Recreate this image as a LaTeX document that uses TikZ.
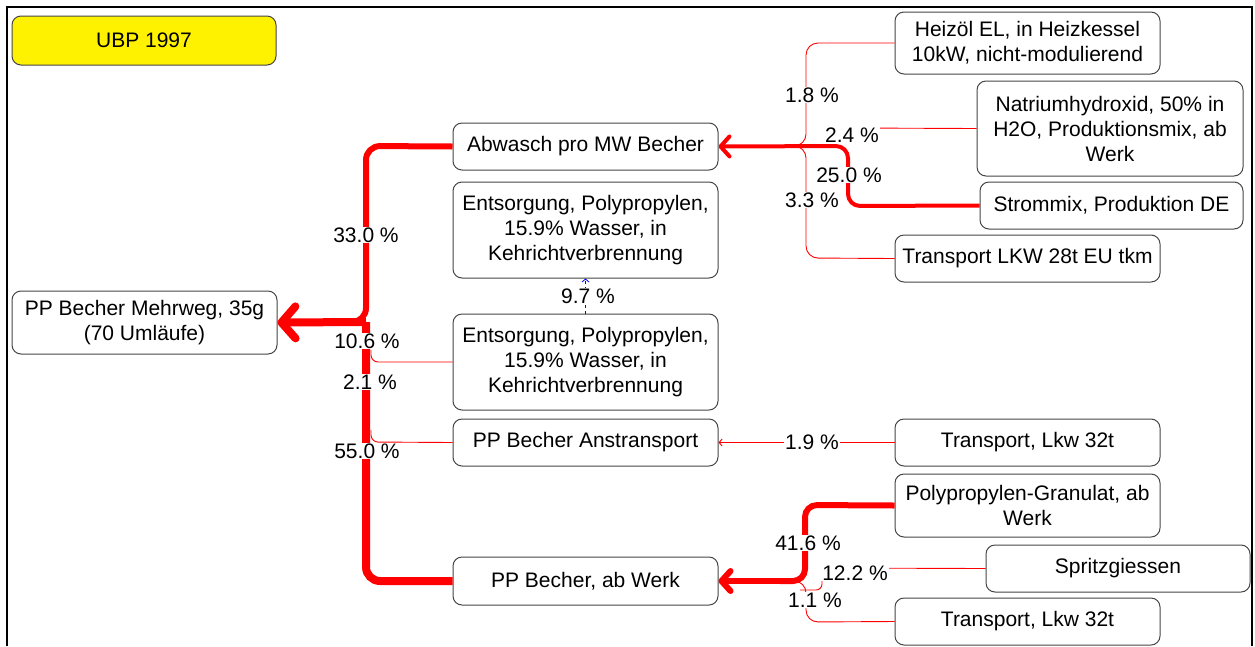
\documentclass[tikz,border=0pt]{standalone}
\usepackage{fontspec}
\setmainfont{Liberation Sans}
\usetikzlibrary{arrows.meta}
\definecolor{boxline}{RGB}{70,70,70}
\definecolor{flowred}{RGB}{255,0,0}
\tikzset{
  box/.style={draw=boxline, line width=1pt, rounded corners=9pt, fill=white, align=center, inner sep=0pt, font=\fontsize{21}{25}\selectfont},
  lbl/.style={fill=white, inner sep=1pt, font=\fontsize{21}{25}\selectfont},
  thinflow/.style={draw=flowred, line width=0.9pt},
  bigtip/.style={-{Straight Barb[length=14pt,width=32pt,round]}},
  midtip/.style={-{Straight Barb[length=9pt,width=20pt,round]}},
  smalltip/.style={-{Straight Barb[length=3pt,width=7pt]}}
}
\begin{document}
\begin{tikzpicture}[x=1pt,y=-1pt]
\useasboundingbox (0,0) rectangle (1255,646);
\fill[white] (0,0) rectangle (1255,646);
% frame
\draw[line width=2.5pt] (7,646) -- (7,7) -- (1252,7) -- (1252,646);

% nodes
\node[box, fill=yellow, minimum width=264, minimum height=49] (ubp) at (144,40.5) {UBP 1997};
\node[box, minimum width=265, minimum height=63] (mehrweg) at (144.5,322.5) {PP Becher Mehrweg, 35g\\(70 Umläufe)};
\node[box, minimum width=265, minimum height=47] (abwasch) at (585.5,146.5) {Abwasch pro MW Becher};
\node[box, minimum width=265, minimum height=96] (ent1) at (585.5,230) {Entsorgung, Polypropylen,\\15.9\% Wasser, in\\Kehrichtverbrennung};
\node[box, minimum width=265, minimum height=96] (ent2) at (585.5,362) {Entsorgung, Polypropylen,\\15.9\% Wasser, in\\Kehrichtverbrennung};
\node[box, minimum width=265, minimum height=47] (anst) at (585.5,442.5) {PP Becher Anstransport};
\node[box, minimum width=265, minimum height=48] (werk) at (585.5,581) {PP Becher, ab Werk};
\node[box, minimum width=265, minimum height=62] (heiz) at (1027.5,43) {Heizöl EL, in Heizkessel\\10kW, nicht-modulierend};
\node[box, minimum width=266, minimum height=95] (natr) at (1110,128.5) {Natriumhydroxid, 50\% in\\H2O, Produktionsmix, ab\\Werk};
\node[box, minimum width=263, minimum height=47] (strom) at (1111.5,205.5) {Strommix, Produktion DE};
\node[box, minimum width=265, minimum height=47] (lkw28) at (1027.5,258.5) {Transport LKW 28t EU tkm};
\node[box, minimum width=265, minimum height=47] (lkw32a) at (1027.5,442.5) {Transport, Lkw 32t};
\node[box, minimum width=265, minimum height=63] (pp) at (1027.5,505.5) {Polypropylen-Granulat, ab\\Werk};
\node[box, minimum width=264, minimum height=47] (spritz) at (1118,568.5) {Spritzgiessen};
\node[box, minimum width=265, minimum height=47] (lkw32b) at (1027.5,621.5) {Transport, Lkw 32t};

% junction coordinates
\coordinate (j1) at (366,322);
\coordinate (j2) at (806,146);
\coordinate (j3) at (806,581);

% left trunk
\draw[thinflow, rounded corners=7pt] (ent2.west) -- (371,362) -- (371,350);
\draw[thinflow, rounded corners=7pt] (anst.west) -- (371,442) -- (371,430);
\draw[flowred, line width=6pt, rounded corners=14pt] (abwasch.west) -- (366,146) -- (j1) -- (340,322);
\draw[flowred, line width=8pt, rounded corners=14pt] (werk.west) -- (366,581) -- (j1);
\draw[flowred, line width=8pt, bigtip] (j1) -- (mehrweg.east);
\node[lbl] (l33) at (366,235) {33.0 \%};
\node[lbl] (l106) at (367,341) {10.6 \%};
\node[lbl] (l21) at (370,382) {2.1 \%};
\node[lbl] (l55) at (367,451) {55.0 \%};

% blue dashed
\draw[blue, line width=0.8pt, dashed, smalltip] (ent2.north) -- (ent1.south);
\node[lbl] (l97) at (588,296) {9.7 \%};

% Abwasch inputs
\draw[thinflow, rounded corners=12pt] (heiz.west) -- (806,43) -- (j2) -- (780,146);
\draw[thinflow, rounded corners=12pt] (lkw28.west) -- (806,258) -- (j2) -- (780,146);
\draw[thinflow] (natr.west) -- (848,128);
\draw[flowred, line width=4pt, rounded corners=12pt, midtip] (strom.west) -- (848,206) -- (848,146) -- (abwasch.east);
\node[lbl] (l18) at (812,95) {1.8 \%};
\node[lbl] (l24) at (852,135) {2.4 \%};
\node[lbl] (l25) at (849,175) {25.0 \%};
\node[lbl] (l33b) at (812,200) {3.3 \%};

% Anstransport input
\draw[thinflow, smalltip] (lkw32a.west) -- (anst.east);
\node[lbl] (l19) at (812,442) {1.9 \%};

% Werk inputs
\draw[thinflow, rounded corners=6pt] (spritz.west) -- (822,568) -- (822,590) -- (800,590);
\draw[thinflow, rounded corners=12pt] (lkw32b.west) -- (806,622) -- (j3) -- (790,581);
\draw[flowred, line width=6pt, rounded corners=12pt] (pp.west) -- (805,505) -- (805,581) -- (780,581);
\draw[flowred, line width=6pt, midtip] (790,581) -- (werk.east);
\node[lbl] (l416) at (808,543) {41.6 \%};
\node[lbl] (l122) at (855,573) {12.2 \%};
\node[lbl] (l11) at (815,600) {1.1 \%};
\end{tikzpicture}
\end{document}
